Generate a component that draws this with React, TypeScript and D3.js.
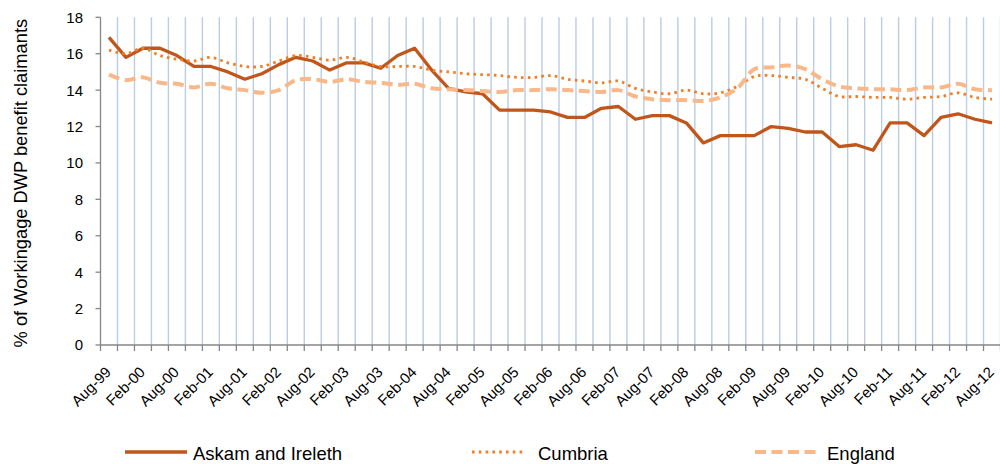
import React from 'react';
import * as d3 from 'd3';

// quarterly periods, Aug-99 .. Aug-12
const categories = [
  'Aug-99', 'Nov-99', 'Feb-00', 'May-00', 'Aug-00', 'Nov-00', 'Feb-01', 'May-01', 'Aug-01', 'Nov-01',
  'Feb-02', 'May-02', 'Aug-02', 'Nov-02', 'Feb-03', 'May-03', 'Aug-03', 'Nov-03', 'Feb-04', 'May-04',
  'Aug-04', 'Nov-04', 'Feb-05', 'May-05', 'Aug-05', 'Nov-05', 'Feb-06', 'May-06', 'Aug-06', 'Nov-06',
  'Feb-07', 'May-07', 'Aug-07', 'Nov-07', 'Feb-08', 'May-08', 'Aug-08', 'Nov-08', 'Feb-09', 'May-09',
  'Aug-09', 'Nov-09', 'Feb-10', 'May-10', 'Aug-10', 'Nov-10', 'Feb-11', 'May-11', 'Aug-11', 'Nov-11',
  'Feb-12', 'May-12', 'Aug-12',
];

const askam = [
  16.9, 15.8, 16.3, 16.3, 15.9, 15.3, 15.3, 15.0, 14.6, 14.9,
  15.4, 15.8, 15.6, 15.1, 15.5, 15.5, 15.2, 15.9, 16.3, 15.1,
  14.1, 13.9, 13.8, 12.9, 12.9, 12.9, 12.8, 12.5, 12.5, 13.0,
  13.1, 12.4, 12.6, 12.6, 12.2, 11.1, 11.5, 11.5, 11.5, 12.0,
  11.9, 11.7, 11.7, 10.9, 11.0, 10.7, 12.2, 12.2, 11.5, 12.5,
  12.7, 12.4, 12.2,
];

const cumbria = [
  16.2, 16.0, 16.3, 15.9, 15.7, 15.6, 15.8, 15.5, 15.3, 15.3,
  15.6, 15.9, 15.8, 15.65, 15.8, 15.55, 15.3, 15.3, 15.3, 15.1,
  15.0, 14.9, 14.85, 14.8, 14.7, 14.7, 14.8, 14.6, 14.5, 14.4,
  14.5, 14.1, 13.9, 13.8, 14.0, 13.8, 13.85, 14.2, 14.75, 14.8,
  14.7, 14.6, 14.1, 13.65, 13.65, 13.6, 13.6, 13.5, 13.6, 13.65,
  13.85, 13.6, 13.5,
];

const england = [
  14.85, 14.55, 14.7, 14.4, 14.35, 14.15, 14.35, 14.1, 14.0, 13.85,
  14.0, 14.55, 14.6, 14.45, 14.6, 14.45, 14.4, 14.3, 14.35, 14.1,
  14.05, 14.0, 13.95, 13.9, 14.0, 14.0, 14.05, 14.0, 13.95, 13.9,
  14.0, 13.65, 13.5, 13.45, 13.45, 13.4, 13.6, 14.1, 15.15, 15.25,
  15.35, 15.15, 14.6, 14.2, 14.1, 14.05, 14.05, 14.0, 14.15, 14.15,
  14.35, 14.05, 14.0,
];

const yTicks = [0, 2, 4, 6, 8, 10, 12, 14, 16, 18];

const seriesNames = ['Askam and Ireleth', 'Cumbria', 'England'];

const W = 1000;
const H = 464;
const left = 100.5;
const right = 1000.5;
const top = 17.3;
const bottom = 345;
const font = '"Liberation Sans", Arial, sans-serif';

const styles = [
  { color: '#C0561A', width: 3.3, dash: null as string | null, curve: d3.curveLinear },
  { color: '#F27D22', width: 2.8, dash: '2.6 4.2', curve: d3.curveCatmullRom },
  { color: '#F9B88A', width: 4, dash: '11 5.5', curve: d3.curveCatmullRom },
];

export default function App() {
  const x = d3.scaleBand<string>().domain(categories).range([left, right]).padding(0);
  const y = d3.scaleLinear().domain([0, 18]).range([bottom, top]);
  const bw = x.bandwidth();
  const cx = (c: string) => (x(c) as number) + bw / 2;

  const allSeries = [askam, cumbria, england];
  const boundaries = d3.range(categories.length + 1).map((i) => left + i * bw);

  const legendPos = [
    { x1: 125, x2: 187, tx: 193 },
    { x1: 472, x2: 526, tx: 538 },
    { x1: 755, x2: 818, tx: 827 },
  ];

  return (
    <svg
      width={W}
      height={H}
      style={{ position: 'absolute', left: 0, top: 0, background: '#fff', fontFamily: font }}
    >
      {/* vertical gridlines between categories */}
      {boundaries.slice(1).map((bx, i) => (
        <line key={'g' + i} x1={bx} x2={bx} y1={top} y2={bottom} stroke="#B9CDE5" strokeWidth={1.4} />
      ))}

      {/* y axis */}
      <line x1={left} x2={left} y1={top} y2={bottom} stroke="#868686" strokeWidth={1.3} />
      {yTicks.map((t) => (
        <g key={'y' + t}>
          <line x1={left - 5} x2={left} y1={y(t)} y2={y(t)} stroke="#868686" strokeWidth={1.3} />
          <text x={83} y={y(t)} dy="0.36em" textAnchor="end" fontSize={15} fill="#000">
            {t}
          </text>
        </g>
      ))}
      <text
        transform={`translate(27, ${(top + bottom) / 2 + 2}) rotate(-90)`}
        textAnchor="middle"
        fontSize={18.3}
        fill="#000"
      >
        % of Workingage DWP benefit claimants
      </text>

      {/* x axis */}
      <line x1={left} x2={right} y1={bottom} y2={bottom} stroke="#868686" strokeWidth={1.3} />
      {boundaries.map((bx, i) => (
        <line key={'t' + i} x1={bx} x2={bx} y1={bottom} y2={bottom + 6} stroke="#868686" strokeWidth={1.3} />
      ))}
      {categories.map((c, i) =>
        i % 2 === 0 ? (
          <text
            key={'x' + c}
            transform={`translate(${cx(c) + 3}, 373) rotate(-45)`}
            textAnchor="end"
            fontSize={15}
            fill="#000"
          >
            {c}
          </text>
        ) : null
      )}

      {/* series lines */}
      {allSeries.map((vals, si) => {
        const st = styles[si];
        const line = d3
          .line<number>()
          .x((_, i) => cx(categories[i]))
          .y((v) => y(v))
          .curve(st.curve);
        return (
          <path
            key={'s' + si}
            d={line(vals) || ''}
            fill="none"
            stroke={st.color}
            strokeWidth={st.width}
            strokeDasharray={st.dash || undefined}
            strokeLinejoin="round"
          />
        );
      })}

      {/* legend */}
      {seriesNames.map((name, si) => {
        const st = styles[si];
        const p = legendPos[si];
        return (
          <g key={'l' + si}>
            <line
              x1={p.x1}
              x2={p.x2}
              y1={452}
              y2={452}
              stroke={st.color}
              strokeWidth={st.width}
              strokeDasharray={st.dash || undefined}
            />
            <text x={p.tx} y={459.5} fontSize={18.5} fill="#000">
              {name}
            </text>
          </g>
        );
      })}
    </svg>
  );
}
